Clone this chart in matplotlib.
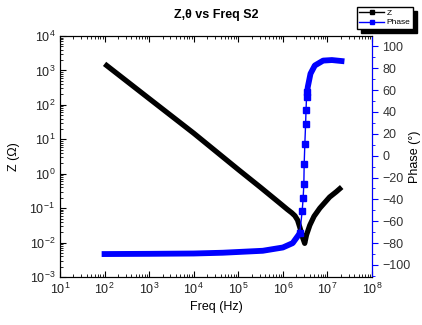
import numpy as np
import matplotlib
matplotlib.use('Agg')
import matplotlib.pyplot as plt
from matplotlib.ticker import LogLocator, MultipleLocator, NullFormatter

plt.rcParams['font.family'] = ['Liberation Sans', 'DejaVu Sans']
plt.rcParams['mathtext.default'] = 'regular'

# impedance magnitude
z_freq = [1e2, 1e3, 1e4, 1e5, 10**5.5, 10**5.93, 10**6.1, 10**6.2, 10**6.27, 10**6.33, 10**6.38, 10**6.44,
          10**6.49, 10**6.53, 10**6.605, 10**6.7, 10**6.83, 10**7.05, 10**7.2, 10**7.32]
z_mag = [1550, 152, 15, 1.32, 0.40, 0.14, 0.092, 0.073, 0.060, 0.045, 0.028, 0.0145,
         0.0095, 0.0166, 0.032, 0.058, 0.10, 0.21, 0.30, 0.41]

# phase
ph_freq = [1e2, 1e3, 1e4, 10**4.65, 10**5.55, 10**6.0, 10**6.22, 10**6.38,
           10**6.433, 10**6.455, 10**6.471, 10**6.478, 10**6.493, 10**6.51, 10**6.52,
           10**6.531, 10**6.545, 10**6.56, 10**6.62, 10**6.717, 10**6.904, 10**7.1, 10**7.316]
ph_deg = [-90, -89.8, -89.5, -88.8, -87, -84, -80, -71,
          -50.7, -39, -26, -8, 10.5, 28.6, 41.6,
          53.7, 58.3, 63, 75, 82.5, 87, 87.5, 86.6]
steep = slice(7, 17)   # sparse markers through the jump

fig = plt.figure(figsize=(4.22, 3.25), dpi=100)
ax = fig.add_axes([60/422, 1-277/325, 312/422, 241/325])
ax2 = ax.twinx()

ax.plot(z_freq, z_mag, '-', color='k', lw=3.8, solid_joinstyle='round', solid_capstyle='butt')
lz, = ax.plot([], [], '-s', color='k', lw=1, ms=3, label='Z')

ax2.plot(ph_freq[:8], ph_deg[:8], '-', color='#0000ff', lw=4.2, solid_joinstyle='round')
ax2.plot(ph_freq[16:], ph_deg[16:], '-', color='#0000ff', lw=4.2, solid_joinstyle='round')
ax2.plot(ph_freq[steep], ph_deg[steep], '-s', color='#0000ff', lw=1, ms=4)
lp, = ax2.plot([], [], '-s', color='#0000ff', lw=1, ms=3, label='Phase')

ax.set_xscale('log')
ax.set_yscale('log')
ax.set_xlim(1e1, 1e8)
ax.set_ylim(1e-3, 1e4)
ax2.set_ylim(-111, 109.5)

ax.xaxis.set_major_locator(LogLocator(base=10, numticks=10))
ax.xaxis.set_minor_locator(LogLocator(base=10, subs=np.arange(2, 10), numticks=20))
ax.xaxis.set_minor_formatter(NullFormatter())
ax.yaxis.set_major_locator(LogLocator(base=10, numticks=10))
ax.yaxis.set_minor_locator(LogLocator(base=10, subs=np.arange(2, 10), numticks=20))
ax.yaxis.set_minor_formatter(NullFormatter())

ax.tick_params(which='both', direction='in', top=True, labelsize=9, colors='k')
ax.tick_params(which='major', length=4)
ax.tick_params(which='minor', length=2)
ax.tick_params(axis='both', labelcolor='#222222')

ax2.yaxis.set_major_locator(MultipleLocator(20))
ax2.yaxis.set_minor_locator(MultipleLocator(10))
ax2.tick_params(axis='y', which='both', direction='out', colors='#0000ff', labelcolor='#333333', labelsize=9)
ax2.tick_params(axis='y', which='major', length=4)
ax2.tick_params(axis='y', which='minor', length=2)
ax2.spines['right'].set_color('#0000ff')

ax.set_xlabel('Freq (Hz)', fontsize=9, labelpad=3)
ax.set_ylabel('Z (Ω)', fontsize=9)
ax.yaxis.set_label_coords(-40/312, 0.5)
ax2.set_ylabel('Phase (°)', fontsize=9)
ax2.yaxis.set_label_coords(1 + 37/312, 0.5)
ax.set_title('Z,θ vs Freq S2', fontsize=9, fontweight='bold', pad=13)

fig.legend(handles=[lz, lp], loc='upper right', bbox_to_anchor=(413/422, 1-7/325),
           fontsize=6, frameon=True, fancybox=False, edgecolor='k',
           shadow={'color': 'k', 'alpha': 1, 'ox': 3, 'oy': -3},
           handlelength=3, borderpad=0.3, labelspacing=0.15, handletextpad=0.3,
           borderaxespad=0)

fig.savefig('out.png', dpi=100)
